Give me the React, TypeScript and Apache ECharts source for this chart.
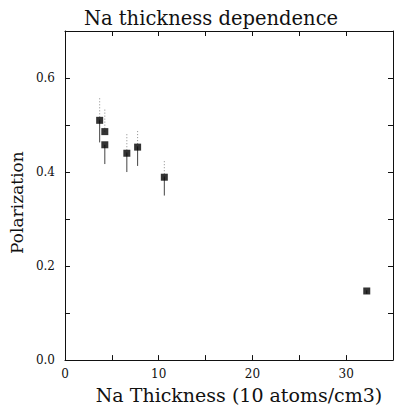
import React, { useEffect, useRef } from "react";
import * as echarts from "echarts";

const titleText = "Na thickness dependence";
const xAxisName = "Na Thickness (10 atoms/cm3)";
const yAxisName = "Polarization";

const thickness = [3.7, 4.25, 4.25, 6.6, 7.75, 10.6, 32.2];
const polarization = [0.51, 0.486, 0.458, 0.44, 0.453, 0.389, 0.147];
const errUp = [0.05, 0.047, 0.0, 0.042, 0.034, 0.038, 0.006];
const errDown = [0.047, 0.0, 0.041, 0.04, 0.04, 0.039, 0.006];

const FONT = "DejaVu Serif";

export default function App() {
  const ref = useRef<HTMLDivElement>(null);
  useEffect(() => {
    if (!ref.current) return;
    const chart = echarts.init(ref.current, null, { renderer: "svg" });
    const points = thickness.map((x, i) => [x, polarization[i]]);
    const bars = thickness.map((x, i) => [x, polarization[i], errUp[i], errDown[i]]);
    const axisCommon = {
      axisLine: { show: true, onZero: false, lineStyle: { color: "#111", width: 1 } },
      axisTick: { show: true, inside: true, length: 5, lineStyle: { color: "#111", width: 1 } },
      splitLine: { show: false },
    };
    chart.setOption({
      animation: false,
      backgroundColor: "#fff",
      title: {
        text: titleText,
        left: 206,
        textAlign: "center",
        top: 3,
        textStyle: { fontFamily: FONT, fontWeight: "normal", fontSize: 19.5, color: "#111" },
      },
      grid: { left: 62, right: 3, top: 31, bottom: 46, containLabel: false },
      xAxis: [
        {
          type: "value",
          position: "bottom",
          min: 0,
          max: 35,
          interval: 5,
          name: xAxisName,
          nameLocation: "middle",
          nameGap: 23,
          nameTextStyle: { fontFamily: FONT, fontSize: 19, color: "#111", padding: [0, 0, 0, 20] },
          ...axisCommon,
          axisLabel: {
            fontFamily: FONT,
            fontSize: 12,
            color: "#111",
            margin: 8,
            showMaxLabel: false,
            formatter: (v: number) => (v % 10 === 0 ? String(v) : ""),
          },
        },
        {
          type: "value",
          position: "top",
          min: 0,
          max: 35,
          interval: 5,
          ...axisCommon,
          axisLabel: { show: false },
        },
      ],
      yAxis: [
        {
          type: "value",
          position: "left",
          min: 0,
          max: 0.7,
          interval: 0.1,
          name: yAxisName,
          nameLocation: "middle",
          nameGap: 35,
          nameTextStyle: { fontFamily: FONT, fontSize: 17, color: "#111", padding: [0, 14, 0, 0] },
          ...axisCommon,
          axisLabel: {
            fontFamily: FONT,
            fontSize: 12,
            color: "#111",
            margin: 10,
            showMaxLabel: false,
            formatter: (v: number) => {
              const r = Math.round(v * 10);
              return r % 2 === 0 ? (r / 10).toFixed(1) : "";
            },
          },
        },
        {
          type: "value",
          position: "right",
          min: 0,
          max: 0.7,
          interval: 0.1,
          ...axisCommon,
          axisLabel: { show: false },
        },
      ],
      series: [
        {
          type: "custom",
          xAxisIndex: 0,
          yAxisIndex: 0,
          data: bars,
          renderItem: (params: any, api: any) => {
            const x = api.value(0);
            const y = api.value(1);
            const up = api.value(2);
            const dn = api.value(3);
            const c = api.coord([x, y]);
            const cu = api.coord([x, y + up]);
            const cd = api.coord([x, y - dn]);
            return {
              type: "group",
              children: [
                {
                  type: "line",
                  shape: { x1: c[0], y1: c[1], x2: cu[0], y2: cu[1] },
                  style: { stroke: "#888", lineWidth: 1, lineDash: [1, 2] },
                },
                {
                  type: "line",
                  shape: { x1: c[0], y1: c[1], x2: cd[0], y2: cd[1] },
                  style: { stroke: "#444", lineWidth: 1 },
                },
              ],
            };
          },
          z: 2,
        },
        {
          type: "scatter",
          xAxisIndex: 0,
          yAxisIndex: 0,
          data: points,
          symbol: "rect",
          symbolSize: 7,
          itemStyle: { color: "#000" },
          z: 3,
        },
      ],
    });
    return () => chart.dispose();
  }, []);
  return <div ref={ref} style={{ width: 396, height: 409, position: "absolute", left: 0, top: 0 }} />;
}
